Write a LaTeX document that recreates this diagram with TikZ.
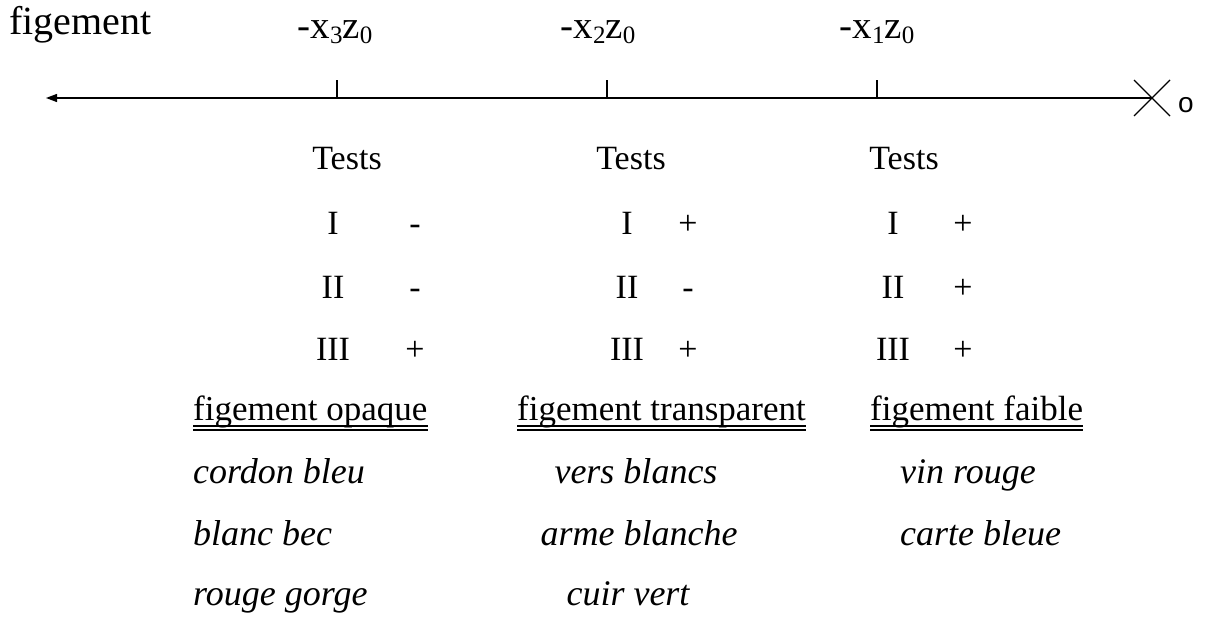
\documentclass[tikz,border=0pt]{standalone}
\usepackage{fontspec}
\setmainfont{Liberation Serif}
\newfontfamily\sansf{Liberation Sans}
\usetikzlibrary{arrows.meta}
\newcommand{\mysub}[1]{\raisebox{-0.12em}{\fontsize{25}{25}\selectfont #1}}
\begin{document}
\begin{tikzpicture}[x=1pt,y=-1pt,
  toplab/.style={anchor=base, inner sep=0pt, font=\fontsize{39}{39}\selectfont},
  body/.style={anchor=base, inner sep=0pt, font=\fontsize{34}{34}\selectfont},
  head/.style={anchor=base west, inner sep=0pt, font=\fontsize{35}{35}\selectfont},
  ital/.style={anchor=base, inner sep=0pt, font=\fontsize{36}{36}\selectfont\itshape},
  axisline/.style={line width=1.3pt},
  uline/.style={line width=1.5pt}]
\useasboundingbox (0,0) rectangle (1218,620);
% axis
\coordinate (L) at (46,98);
\coordinate (O) at (1152,98);
\coordinate (t3) at (337,98);
\coordinate (t2) at (607,98);
\coordinate (t1) at (877,98);
\draw[axisline,-{Triangle[length=11pt,width=8pt]}] (O) -- (L);
\foreach \t in {t1,t2,t3} \draw[axisline] (\t) -- ++(0,-18);
\draw[line width=1.2pt] (O) ++(-18,-18) -- ++(36,36);
\draw[line width=1.2pt] (O) ++(-18,18) -- ++(36,-36);
\node[anchor=base, inner sep=0pt, font=\sansf\fontsize{28}{28}\selectfont] (o) at (1186,113) {o};
% top labels
\node[anchor=base west, inner sep=0pt, font=\fontsize{40}{40}\selectfont] (fig) at (9,35) {figement};
\node[toplab] (x3) at (335,39) {-x\mysub{3}z\mysub{0}};
\node[toplab] (x2) at (598,39) {-x\mysub{2}z\mysub{0}};
\node[toplab] (x1) at (877,39) {-x\mysub{1}z\mysub{0}};
% column 1
\node[body] (T3) at (347,170) {Tests};
\node[body] (a1) at (333,235) {I};   \node[body] (s31) at (415,235) {-};
\node[body] (a2) at (333,299) {II};  \node[body] (s32) at (415,299) {-};
\node[body] (a3) at (333,360) {III}; \node[body] (s33) at (415,360) {+};
% column 2
\node[body] (T2) at (631,170) {Tests};
\node[body] (b1) at (627,235) {I};   \node[body] (s21) at (688,235) {+};
\node[body] (b2) at (627,299) {II};  \node[body] (s22) at (688,299) {-};
\node[body] (b3) at (627,360) {III}; \node[body] (s23) at (688,360) {+};
% column 3
\node[body] (T1) at (904,170) {Tests};
\node[body] (c1) at (893,235) {I};   \node[body] (s11) at (963,235) {+};
\node[body] (c2) at (893,299) {II};  \node[body] (s12) at (963,299) {+};
\node[body] (c3) at (893,360) {III}; \node[body] (s13) at (963,360) {+};
% headings
\node[head] (h1) at (193,420) {figement opaque};
\node[head] (h2) at (517,420) {figement transparent};
\node[head] (h3) at (870,420) {figement faible};
\foreach \h in {h1,h2,h3}{
  \draw[uline] ([yshift=-6pt]\h.base west) -- ([yshift=-6pt]\h.base east);
  \draw[uline] ([yshift=-10pt]\h.base west) -- ([yshift=-10pt]\h.base east);
}
% examples
\node[ital, anchor=base west] (e11) at (193,483) {cordon bleu};
\node[ital, anchor=base west] (e12) at (193,545) {blanc bec};
\node[ital, anchor=base west] (e13) at (193,605) {rouge gorge};
\node[ital] (e21) at (636,483) {vers blancs};
\node[ital] (e22) at (639,545) {arme blanche};
\node[ital] (e23) at (628,605) {cuir vert};
\node[ital, anchor=base west] (e31) at (900,483) {vin rouge};
\node[ital, anchor=base west] (e32) at (900,545) {carte bleue};
\end{tikzpicture}
\end{document}
